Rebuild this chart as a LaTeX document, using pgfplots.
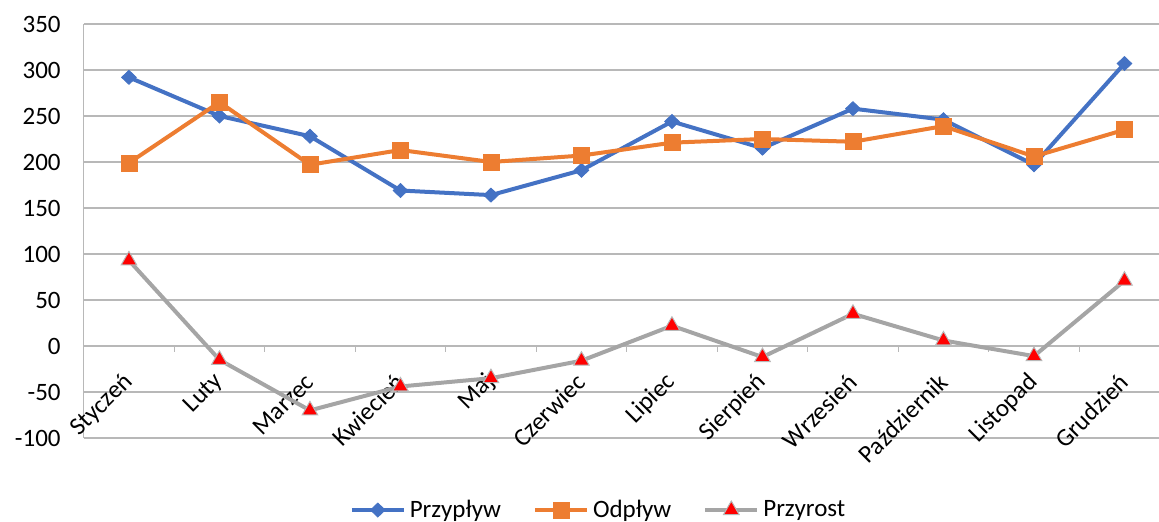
\documentclass[border=0pt]{standalone}
\usepackage{pgfplots}
\pgfplotsset{compat=1.18}
\usepackage{fontspec}
\setmainfont{Carlito}
\definecolor{cBlue}{HTML}{4472C4}
\definecolor{cOrange}{HTML}{ED7D31}
\definecolor{cGray}{HTML}{A5A5A5}
\definecolor{cGrid}{HTML}{B8B8B8}
\begin{document}
\begin{tikzpicture}
\begin{axis}[%
scale only axis,
width=543pt, height=207pt,
xmin=-0.5, xmax=11.5,
ymin=-100, ymax=350,
axis x line=middle,
axis y line=left,
axis line style={-, draw=cGrid, line width=0.6pt},
font=\fontsize{12.5}{15}\selectfont,
xtick={0,...,11},
xticklabels={Styczeń,Luty,Marzec,Kwiecień,Maj,Czerwiec,Lipiec,Sierpień,Wrzesień,Październik,Listopad,Grudzień},
major tick length=0pt,
xticklabel style={yshift=-16pt, xshift=0pt, rotate=45, anchor=east, inner sep=0pt},
ytick={-100,-50,...,350},
yticklabels={-100,-50,0,50,100,150,200,250,300,350},
ytick style={draw=none},
yticklabel style={xshift=-8pt},
ymajorgrids,
major grid style={draw=cGrid, line width=0.6pt},
legend style={at={(0.475,-0.174)}, anchor=center, draw=none, fill=none,
  legend columns=3, /tikz/every even column/.append style={column sep=14pt}},
legend cell align=left,
legend image code/.code={\draw[mark repeat=2, mark phase=2] plot coordinates {(0pt,0pt) (13pt,0pt) (26pt,0pt)};},
]
% tick marks between the categories on the zero line
\pgfplotsinvokeforeach{-0.5,0.5,1.5,2.5,3.5,4.5,5.5,6.5,7.5,8.5,9.5,10.5}{
  \draw[cGrid, line width=0.6pt] (axis cs:#1,0) -- ++(0pt,-3pt);
}
\addplot[cBlue, line width=2pt, mark=diamond*, mark size=3.5pt,
  mark options={solid, line width=0.4pt, xscale=1.4}] coordinates {
(0,292) (1,250) (2,228) (3,169) (4,164) (5,191)
(6,244) (7,215) (8,258) (9,246) (10,197) (11,307)
};
\addplot[cOrange, line width=2pt, mark=square*, mark size=4pt,
  mark options={solid, line width=0.4pt}] coordinates {
(0,199) (1,265) (2,197) (3,213) (4,200) (5,207)
(6,221) (7,225) (8,222) (9,239) (10,206) (11,235)
};
\addplot[cGray, line width=2pt, mark=triangle*, mark size=4.5pt,
  mark options={solid, fill=red, draw=cGrid, line width=0.5pt}] coordinates {
(0,93) (1,-15) (2,-70) (3,-44) (4,-35) (5,-16)
(6,22) (7,-12) (8,35) (9,6) (10,-11) (11,71)
};
\addlegendentry{Przypływ}
\addlegendentry{Odpływ}
\addlegendentry{Przyrost}
\end{axis}
\pgfresetboundingbox
\path[use as bounding box] (-41.85pt,-42pt) rectangle (537.65pt,219pt);
\end{tikzpicture}
\end{document}
